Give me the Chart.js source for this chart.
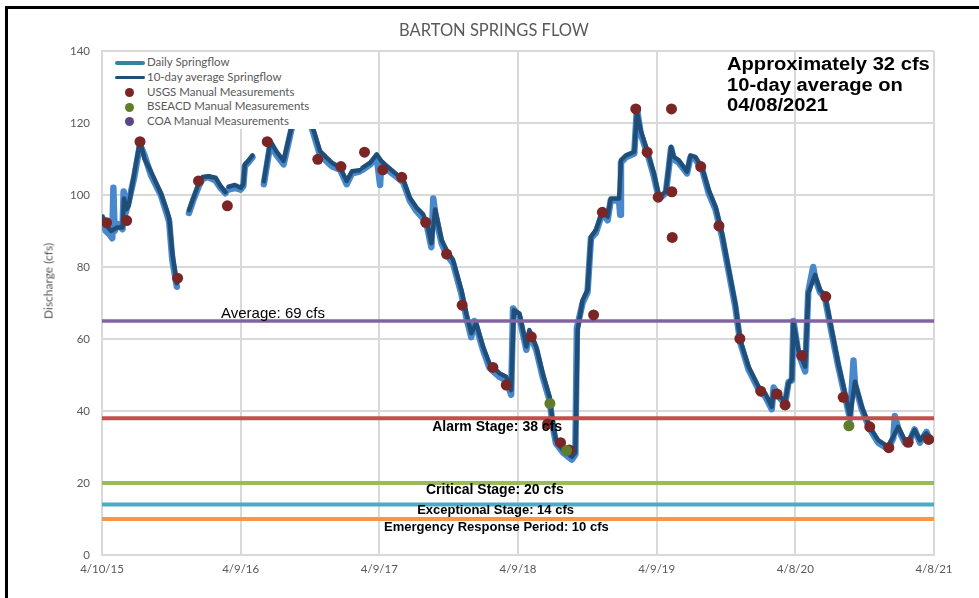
<!DOCTYPE html>
<html>
<head>
<meta charset="utf-8">
<script src="https://cdn.jsdelivr.net/npm/chart.js@4.4.0/dist/chart.umd.min.js"></script>
<style>
  body { margin: 0; background: #fff; }
  #wrap { position: relative; width: 979px; height: 598px; overflow: hidden; background: #fff; }
  #chart { position: absolute; left: 0; top: 0; }
  #frame { position: absolute; left: 5px; top: 6px; width: 990px; height: 600px;
           border-top: 3px solid #000; border-left: 3px solid #000; pointer-events: none; }
  #title { position: absolute; left: 294px; width: 400px; top: 20px; text-align: center;
           font: 16.5px Lato, sans-serif; color: #595959; }
  #ytitle { position: absolute; left: 47.5px; top: 281px; transform: translate(-50%, -50%) rotate(-90deg);
            font: 12px Lato, sans-serif; color: #595959; white-space: nowrap; }
  #legend { position: absolute; left: 103px; top: 52px; width: 216px; height: 77px; background: #fff; }
  .lg-row { position: absolute; left: 0; height: 14px; width: 216px; }
  .lg-line { position: absolute; left: 12px; top: 5px; width: 30px; height: 3.5px; border-radius: 2px; }
  .lg-dot { position: absolute; left: 22px; top: 2.5px; width: 9px; height: 9px; border-radius: 50%; }
  .lg-text { position: absolute; left: 44px; top: -1px; font: 11.5px Lato, sans-serif; color: #595959; white-space: nowrap; }
  #note { position: absolute; left: 727px; top: 54px; font: bold 18px "Liberation Sans", Arial, sans-serif;
          line-height: 20.5px; color: #000; transform: scaleX(1.12); transform-origin: left top; white-space: nowrap; }
</style>
</head>
<body>
<div id="wrap">
  <canvas id="chart" width="979" height="598"></canvas>
  <div id="title">BARTON SPRINGS FLOW</div>
  <div id="ytitle">Discharge (cfs)</div>
  <div id="legend"></div>
  <div id="note">Approximately 32 cfs<br>10-day average on<br>04/08/2021</div>
  <div id="frame"></div>
</div>
<script>
// days counted from 4/10/2015
const tickDays = [0, 365, 730, 1095, 1460, 1825, 2190];
const tickLabels = ['4/10/15', '4/9/16', '4/9/17', '4/9/18', '4/9/19', '4/8/20', '4/8/21'];

// 10-day average springflow (null = gap in record)
const avgDay = [2, 12, 24, 40, 54, 58, 64, 70, 85, 100, 112, 129, 155, 170, 177, 185, 197, 198,
  229, 240, 255, 265, 280, 299, 312, 325, 326, 333, 350, 365, 372, 376, 385, 396, 397,
  426, 443, 460, 478, 496, 510, 522, 535, 548, 557, 574, 590, 605, 627, 644, 658, 678, 680,
  686, 706, 723, 735, 745, 776, 793, 810, 828, 845, 856, 867, 877, 894, 907, 924, 946, 959, 972, 985,
  1003, 1020, 1046, 1064, 1077, 1084, 1099, 1117, 1125, 1143, 1160, 1178, 1187, 1195, 1213, 1237, 1246,
  1252, 1265, 1278, 1287, 1300, 1317, 1331, 1339, 1361, 1366, 1379, 1401, 1408, 1418, 1440, 1453, 1466,
  1484, 1492, 1498, 1505, 1518, 1540, 1549, 1562, 1580, 1597, 1615, 1632, 1650, 1667, 1680, 1702, 1728,
  1746, 1763, 1768, 1785, 1798, 1807, 1816, 1820, 1833, 1851, 1859, 1877, 1890, 1903, 1921, 1938, 1956,
  1969, 1982, 2000, 2021, 2043, 2069, 2083, 2096, 2113, 2125, 2139, 2153, 2170, 2179];
const avgCfs = [94, 91.5, 90, 91, 91, 99, 96, 97, 106, 115, 110, 106.5, 100.5, 96, 93.5, 84, 75.5, null,
  95.8, 99, 103.5, 105, 105.2, 104.8, 102.5, 100.8, null, 102.3, 102.8, 102, 103, 108.5, 109.5, 111, null,
  103.8, 115, 112, 109.5, 117.6, 124, 127, 125, 121, 118, 112.2, 110.5, 109, 107.6, 103.9, 106.6, 106.9, null,
  107.6, 109, 111.3, 109.5, 108.5, 105.7, 104.3, 99.3, 96.5, 94.7, 92, 86.6, 96, 87.5, 84.7, 82, 73.6, 67.1, 61.6, 64.4,
  57.9, 53.2, 50.5, 49.5, 45.8, 68, 67.1, 57.9, 62.5, 57.9, 50.5, 44, 36.6, 31.9, 29.2, 27.3, 28.5,
  62.5, 70.8, 73.6, 88.4, 90.3, 95.4, 94, 99, 99, 109.7, 111, 112, 123.1, 118, 110.6, 106, 99.5,
  100.9, 107.9, 113.4, 110.6, 109.7, 106.5, 111, 110.6, 107.4, 101.4, 96.8, 89.4, 79.2, 69.9, 59.7, 52.3, 46.8,
  44.9, 41.2, 45.5, 44, 42.6, 47.7, 49, 64.4, 56.9, 52.3, 72.7, 77.8, 73.6, 72.2, 62.5, 53.2, 44.9,
  38.4, 48.1, 41.2, 35.6, 31.9, 30.1, 32.9, 35.6, 31.9, 32, 34.7, 31.9, 33.8, 32.4];

// daily springflow
const dailyDay = [2, 10, 20, 27, 30, 33, 40, 54, 57, 62, 70, 85, 100, 112, 129, 155, 170, 177, 185, 197, 198,
  229, 240, 255, 265, 280, 299, 312, 325, 326, 333, 350, 365, 372, 376, 385, 396, 397,
  426, 443, 460, 478, 496, 510, 522, 535, 548, 557, 574, 590, 605, 627, 644, 658, 678, 680,
  686, 706, 723, 732, 735, 745, 776, 793, 810, 828, 845, 856, 867, 872, 877, 894, 907, 924, 946, 959, 972, 980, 985,
  1003, 1020, 1046, 1064, 1077, 1082, 1099, 1117, 1125, 1143, 1160, 1178, 1187, 1195, 1213, 1237, 1246,
  1250, 1265, 1278, 1287, 1300, 1317, 1331, 1339, 1361, 1364, 1366, 1379, 1401, 1408, 1418, 1440, 1453, 1466,
  1484, 1492, 1498, 1505, 1518, 1540, 1549, 1562, 1580, 1597, 1615, 1632, 1650, 1667, 1680, 1702, 1728,
  1746, 1763, 1768, 1785, 1798, 1807, 1816, 1820, 1833, 1851, 1859, 1872, 1877, 1890, 1903, 1921, 1938, 1956,
  1969, 1978, 1982, 2000, 2021, 2043, 2069, 2083, 2087, 2096, 2113, 2125, 2139, 2153, 2170, 2179];
const dailyCfs = [93, 90, 89, 88, 102, 90, 92, 90.5, 101, 95, 98, 105, 114, 111, 105.5, 100, 95, 92.5, 82, 74.5, null,
  95, 98.5, 102.5, 104.5, 105, 104, 102, 100.5, null, 101.5, 102, 101.5, 102.5, 108, 109, 110.5, null,
  103, 114, 111, 108.5, 117, 123, 126, 124, 120, 117, 111, 109.5, 108, 107, 103, 106, 106.5, null,
  107, 108.5, 110.5, 102.8, 109, 107.5, 105, 103.5, 98.5, 95.5, 93.5, 91, 85.5, 99, 95, 86.5, 83.5, 81, 72.5, 66, 60.5, 65, 63.5,
  57, 52, 49.5, 48.5, 44.5, 68.5, 66, 57, 61.5, 57, 49.5, 43, 35.5, 31, 28.5, 26.5, 28,
  63, 70, 73, 88, 89.5, 95, 93, 98.5, 98.5, 94.5, 109, 110.5, 111.5, 124, 117, 110, 105, 99,
  100.5, 107.5, 113, 110, 109, 106, 110.5, 110, 107, 100.5, 96, 88.5, 78.5, 69, 59, 51.5, 46,
  44, 40.5, 46.5, 43.5, 42, 48, 48.5, 65, 56, 51, 73, 80, 77, 73, 71.5, 61.5, 52.5, 44,
  37.8, 54, 47.5, 40.5, 35, 31.2, 29.5, 32.5, 38.6, 35, 31.2, 31.5, 34.9, 31.2, 34.2, 32];

// manual measurements
const usgsDay = [12, 65, 100, 199, 254, 330, 435, 568, 629, 691, 739, 789, 852, 907, 948, 1029, 1064, 1130,
  1173, 1207, 1230, 1294, 1317, 1405, 1435, 1464, 1499, 1500, 1501, 1576, 1624, 1679, 1734, 1777, 1798,
  1842, 1905, 1951, 2021, 2071, 2122, 2176];
const usgsCfs = [92.3, 92.9, 114.8, 76.9, 103.9, 97, 114.8, 109.9, 107.9, 111.9, 107, 104.9, 92.4, 83.6, 69.4, 52.1, 47.2, 60.6,
  36.4, 31.2, 29.2, 66.7, 95.2, 123.9, 111.9, 99.4, 123.9, 100.9, 88.2, 107.9, 91.4, 60.1, 45.5, 44.7, 41.7,
  55.4, 71.8, 43.8, 35.6, 29.8, 31.3, 32.1];
const bseacdDay = [1179, 1223, 1966];
const bseacdCfs = [42.1, 29, 35.9];
const coaDay = [];
const coaCfs = [];

// reference stage lines (drawn level, label text)
const stageValues = [65, 38, 20, 14, 10];
const stageTexts = ['Average: 69 cfs', 'Alarm Stage: 38 cfs', 'Critical Stage: 20 cfs',
  'Exceptional Stage: 14 cfs', 'Emergency Response Period: 10 cfs'];

const toPoints = (xs, ys) => xs.map((d, i) => ({ x: d, y: ys[i] }));

const stageColors = ['#8064a2', '#c0504d', '#9bbb59', '#4bacc6', '#f79646'];
const stageWidths = [3.5, 4, 4, 4, 4];
// label anchor in data units and font for each stage label
const stageLabelPos = [
  { day: 450, cfs: 66.9, font: '15px "Liberation Sans", Arial, sans-serif' },
  { day: 1040, cfs: 35.6, font: 'bold 14px "Liberation Sans", Arial, sans-serif' },
  { day: 1034, cfs: 17.9, font: 'bold 14px "Liberation Sans", Arial, sans-serif' },
  { day: 1036, cfs: 12.5, font: 'bold 13px "Liberation Sans", Arial, sans-serif' },
  { day: 1038, cfs: 7.7, font: 'bold 13px "Liberation Sans", Arial, sans-serif' }
];

const stageLabels = {
  id: 'stageLabels',
  afterDatasetsDraw(chart) {
    const { ctx, scales: { x, y } } = chart;
    ctx.save();
    ctx.fillStyle = '#000';
    ctx.textAlign = 'center';
    ctx.textBaseline = 'middle';
    stageTexts.forEach((t, i) => {
      const p = stageLabelPos[i];
      ctx.font = p.font;
      ctx.fillText(t, x.getPixelForValue(p.day), y.getPixelForValue(p.cfs));
    });
    ctx.restore();
  }
};

const stageSets = stageValues.map((v, i) => ({
  label: stageTexts[i],
  data: [{ x: 0, y: v }, { x: 2190, y: v }],
  borderColor: stageColors[i],
  borderWidth: stageWidths[i],
  pointRadius: 0,
  order: 3
}));

const gridColor = '#d9d9d9';
const tickFont = { family: 'Lato', size: 11.5 };

new Chart(document.getElementById('chart'), {
  type: 'line',
  data: {
    datasets: [
      {
        label: 'Daily Springflow',
        data: toPoints(dailyDay, dailyCfs),
        borderColor: '#4a88cc',
        borderWidth: 6.5,
        pointRadius: 0,
        spanGaps: false,
        borderJoinStyle: 'round',
        borderCapStyle: 'round',
        order: 6
      },
      {
        label: '10-day average Springflow',
        data: toPoints(avgDay, avgCfs),
        borderColor: '#1f4e79',
        borderWidth: 4.5,
        pointRadius: 0,
        spanGaps: false,
        borderJoinStyle: 'round',
        borderCapStyle: 'round',
        order: 5
      },
      ...stageSets,
      {
        label: 'USGS Manual Measurements',
        data: toPoints(usgsDay, usgsCfs),
        showLine: false,
        pointRadius: 5.5,
        pointBorderWidth: 0,
        pointBackgroundColor: '#7b2626',
        order: 2
      },
      {
        label: 'BSEACD Manual Measurements',
        data: toPoints(bseacdDay, bseacdCfs),
        showLine: false,
        pointRadius: 5.5,
        pointBorderWidth: 0,
        pointBackgroundColor: '#5f7d2b',
        order: 1
      },
      {
        label: 'COA Manual Measurements',
        data: toPoints(coaDay, coaCfs),
        showLine: false,
        pointRadius: 5.5,
        pointBorderWidth: 0,
        pointBackgroundColor: '#5b4582',
        order: 0
      }
    ]
  },
  options: {
    responsive: false,
    animation: false,
    layout: { padding: { left: 35, top: 51, right: 45, bottom: 0 } },
    plugins: {
      legend: { display: false },
      title: { display: false },
      tooltip: { enabled: false }
    },
    scales: {
      x: {
        type: 'linear',
        min: 0,
        max: 2190,
        afterBuildTicks: s => { s.ticks = tickDays.map(v => ({ value: v })); },
        afterFit: s => { s.height = 43; },
        ticks: {
          callback: (v, i) => tickLabels[i],
          color: '#595959',
          font: tickFont,
          padding: 7,
          maxRotation: 0,
          autoSkip: false
        },
        grid: { color: gridColor, lineWidth: 2, drawTicks: false },
        border: { color: gridColor, width: 2 }
      },
      y: {
        min: 0,
        max: 140,
        afterFit: s => { s.width = 67; },
        ticks: { stepSize: 20, color: '#595959', font: tickFont, padding: 12 },
        grid: { color: gridColor, lineWidth: 2, drawTicks: false },
        border: { color: gridColor, width: 2 }
      }
    }
  },
  plugins: [stageLabels]
});

// legend box in the upper-left corner of the plot
const legendItems = [
  { text: 'Daily Springflow', kind: 'line', color: '#31859c' },
  { text: '10-day average Springflow', kind: 'line', color: '#1f4e79' },
  { text: 'USGS Manual Measurements', kind: 'dot', color: '#7b2626' },
  { text: 'BSEACD Manual Measurements', kind: 'dot', color: '#5f7d2b' },
  { text: 'COA Manual Measurements', kind: 'dot', color: '#5b4582' }
];
const legendEl = document.getElementById('legend');
legendItems.forEach((item, i) => {
  const row = document.createElement('div');
  row.className = 'lg-row';
  row.style.top = (4.3 + i * 14.6) + 'px';
  const mark = document.createElement('div');
  mark.className = item.kind === 'line' ? 'lg-line' : 'lg-dot';
  mark.style.background = item.color;
  const label = document.createElement('div');
  label.className = 'lg-text';
  label.textContent = item.text;
  row.appendChild(mark);
  row.appendChild(label);
  legendEl.appendChild(row);
});
</script>
</body>
</html>
